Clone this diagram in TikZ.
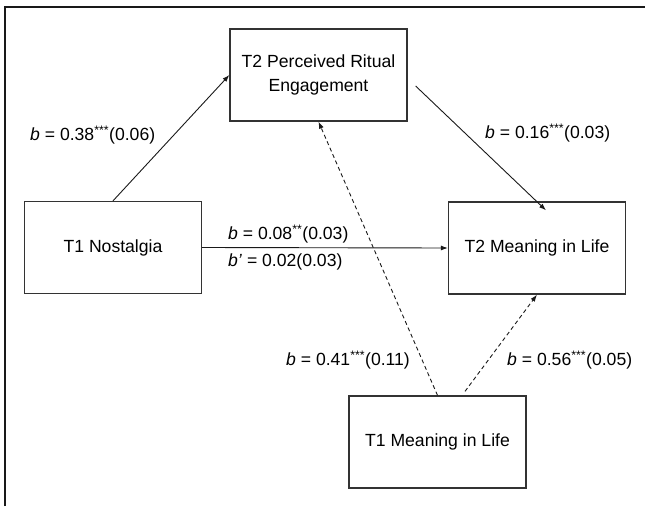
\documentclass[tikz,border=0pt]{standalone}
\usepackage{fontspec}
\setmainfont{Liberation Sans}
\usetikzlibrary{arrows.meta,calc}
\begin{document}
\begin{tikzpicture}[x=1pt,y=-1pt,
  font=\fontsize{17.6}{24}\selectfont,
  varbox/.style={draw=black!80,line width=1.3pt,minimum width=177pt,minimum height=92pt,align=center,inner sep=0pt},
  lab/.style={anchor=west,inner sep=0pt},
  conn/.style={draw=black!90,line width=0.9pt,-{Latex[length=7pt,width=5pt]}},
  dconn/.style={conn,dash pattern=on 4pt off 3pt}]
\useasboundingbox (0,0) rectangle (645,506);
\draw[line width=2pt,black!90] (5,506) -- (5,7) -- (645,7);
\node[varbox] (rit) at (318.5,75) {T2 Perceived Ritual\\Engagement};
\node[varbox] (nost) at (113,247.5) {T1 Nostalgia};
\node[varbox] (tml) at (537,248) {T2 Meaning in Life};
\node[varbox] (oml) at (437.5,442) {T1 Meaning in Life};
\coordinate (a1) at ($(rit.east)+(8,11)$);
\coordinate (a2) at ($(tml.north)+(9,9)$);
\coordinate (a3) at ($(oml.north)+(27.5,-4)$);
\draw[conn] (nost.north) -- (rit.west);
\draw[conn] (a1) -- (a2);
\draw[conn] (nost.east) -- (tml.west);
\draw[dconn] (oml.north) -- (rit.south);
\draw[dconn] (a3) -- (tml.south);
\node[lab] (l1) at (30,135) {\textit{b} = 0.38\textsuperscript{***}(0.06)};
\node[lab] (l2) at (485,133) {\textit{b} = 0.16\textsuperscript{***}(0.03)};
\node[lab] (l3) at (228,234) {\textit{b} = 0.08\textsuperscript{**}(0.03)};
\node[lab] (l4) at (228,262) {\textit{b'} = 0.02(0.03)};
\node[lab] (l5) at (286,360) {\textit{b} = 0.41\textsuperscript{***}(0.11)};
\node[lab] (l6) at (507,360) {\textit{b} = 0.56\textsuperscript{***}(0.05)};
\end{tikzpicture}
\end{document}
